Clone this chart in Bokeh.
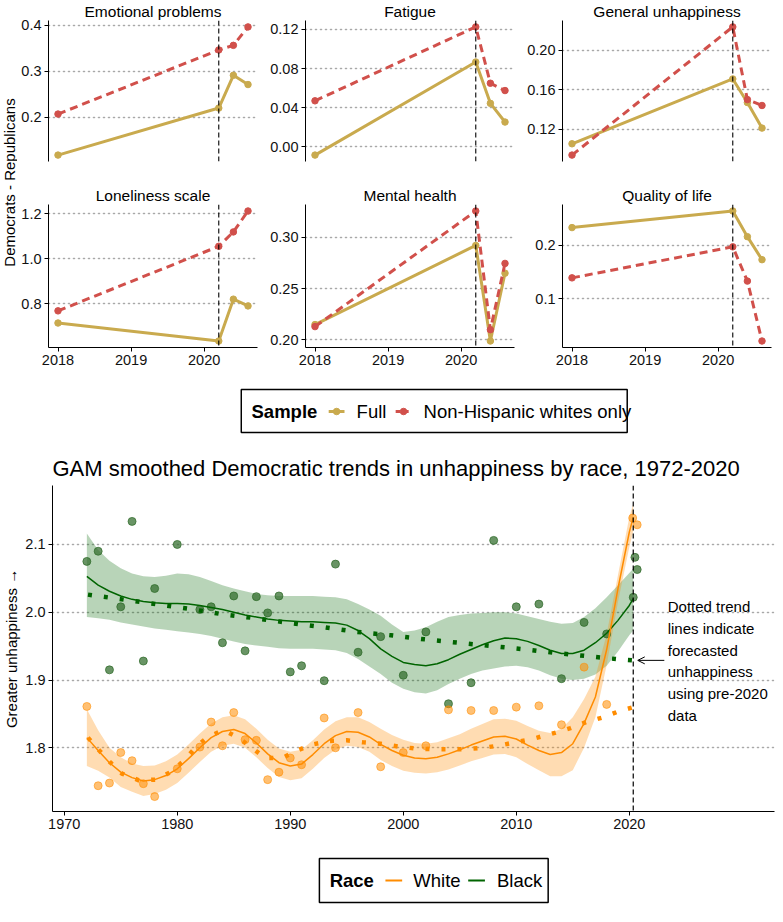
import math
from bokeh.plotting import figure
from bokeh.models import Range1d, FixedTicker, Span, NumeralTickFormatter, Arrow, OpenHead
from bokeh.layouts import column, row
from bokeh.embed import file_html
from bokeh.resources import INLINE
from bokeh.core.properties import value

FONT = "Liberation Sans"
GOLD = "#C9AA4E"
RED = "#D1504B"
ORANGE = "darkorange"
GREEN = "darkgreen"
GRIDC = "#A8A8A8"

# ---------------- small multiples ----------------
survey_x = [2018.0, 2020.2, 2020.4, 2020.6]
covid_x = 2020.2
small_xticks = [2018, 2019, 2020]
sample_title = "Sample"
sample_labels = ["Full", "Non-Hispanic whites only"]
y_title_top = "Democrats - Republicans"

emo_full = [0.118, 0.220, 0.291, 0.271]
emo_nhw = [0.207, 0.346, 0.356, 0.396]
emo_ticks = [0.2, 0.3, 0.4]

fat_full = [-0.0085, 0.0867, 0.0444, 0.0253]
fat_nhw = [0.047, 0.1226, 0.065, 0.0575]
fat_ticks = [0.0, 0.04, 0.08, 0.12]

gen_full = [0.105, 0.171, 0.147, 0.121]
gen_nhw = [0.0935, 0.224, 0.150, 0.144]
gen_ticks = [0.12, 0.16, 0.20]

lone_full = [0.714, 0.634, 0.820, 0.790]
lone_nhw = [0.768, 1.055, 1.119, 1.212]
lone_ticks = [0.8, 1.0, 1.2]

mh_full = [0.215, 0.292, 0.199, 0.265]
mh_nhw = [0.213, 0.3255, 0.210, 0.2745]
mh_ticks = [0.20, 0.25, 0.30]

qol_full = [0.233, 0.264, 0.216, 0.173]
qol_nhw = [0.139, 0.197, 0.133, 0.021]
qol_ticks = [0.1, 0.2]

# ---------------- GAM chart ----------------
big_title = "GAM smoothed Democratic trends in unhappiness by race, 1972-2020"
big_ylabel = "Greater unhappiness \u2192"
big_xticks = [1970, 1980, 1990, 2000, 2010, 2020]
big_yticks = [1.8, 1.9, 2.0, 2.1]
big_vline = 2020.35
race_title = "Race"
race_labels = ["White", "Black"]
note_lines = ["Dotted trend", "lines indicate", "forecasted", "unhappiness",
              "using pre-2020", "data"]

white_obs_x = [1972, 1973, 1974, 1975, 1976, 1977, 1978, 1980, 1982, 1983, 1984,
               1985, 1986, 1987, 1988, 1989, 1990, 1991, 1993, 1994, 1996, 1998,
               2000, 2002, 2004, 2006, 2008, 2010, 2012, 2014, 2016, 2018,
               2020.3, 2020.7]
white_obs = [1.861, 1.744, 1.748, 1.793, 1.781, 1.747, 1.728, 1.769, 1.801, 1.838,
             1.803, 1.852, 1.812, 1.811, 1.753, 1.764, 1.785, 1.775, 1.844, 1.800,
             1.852, 1.772, 1.793, 1.803, 1.856, 1.855, 1.855, 1.860, 1.862, 1.834,
             1.919, 1.864, 2.139, 2.129]

black_obs_x = [1972, 1973, 1974, 1975, 1976, 1977, 1978, 1980, 1982, 1983, 1984,
               1985, 1986, 1987, 1988, 1989, 1990, 1991, 1993, 1994, 1996, 1998,
               2000, 2002, 2004, 2006, 2008, 2010, 2012, 2014, 2016, 2018,
               2020.35, 2020.5, 2020.7]
black_obs = [2.075, 2.090, 1.915, 2.008, 2.134, 1.928, 2.035, 2.100, 2.004, 2.008,
             1.955, 2.024, 1.943, 2.023, 1.999, 2.024, 1.912, 1.921, 1.899, 2.071,
             1.941, 1.964, 1.907, 1.971, 1.865, 1.896, 2.106, 2.008, 2.012, 1.902,
             1.985, 1.968, 2.022, 2.081, 2.063]

fit_x = [1972, 1973, 1974, 1975, 1976, 1977, 1978, 1979, 1980, 1981, 1982, 1983,
         1984, 1985, 1986, 1987, 1988, 1989, 1990, 1991, 1992, 1993, 1994, 1995,
         1996, 1997, 1998, 1999, 2000, 2001, 2002, 2003, 2004, 2005, 2006, 2007,
         2008, 2009, 2010, 2011, 2012, 2013, 2014, 2015, 2016, 2017, 2018, 2019,
         2020, 2020.35]
white_fit = [1.815, 1.796, 1.778, 1.764, 1.756, 1.751, 1.753, 1.759, 1.769, 1.784,
             1.800, 1.815, 1.824, 1.827, 1.821, 1.807, 1.791, 1.778, 1.773, 1.776,
             1.790, 1.806, 1.818, 1.824, 1.823, 1.816, 1.805, 1.796, 1.789, 1.785,
             1.784, 1.786, 1.791, 1.797, 1.804, 1.810, 1.816, 1.817, 1.813, 1.804,
             1.796, 1.790, 1.793, 1.806, 1.836, 1.875, 1.945, 2.035, 2.118, 2.140]
white_hi = [1.857, 1.826, 1.800, 1.786, 1.777, 1.773, 1.774, 1.780, 1.790, 1.805,
            1.821, 1.836, 1.845, 1.848, 1.842, 1.828, 1.812, 1.799, 1.794, 1.797,
            1.811, 1.827, 1.839, 1.845, 1.845, 1.838, 1.828, 1.819, 1.812, 1.807,
            1.806, 1.808, 1.814, 1.820, 1.828, 1.835, 1.842, 1.843, 1.840, 1.832,
            1.825, 1.822, 1.828, 1.845, 1.872, 1.905, 1.968, 2.055, 2.140, 2.160]
white_lo = [1.773, 1.766, 1.756, 1.742, 1.735, 1.729, 1.732, 1.738, 1.748, 1.763,
            1.779, 1.794, 1.803, 1.806, 1.800, 1.786, 1.770, 1.757, 1.752, 1.755,
            1.769, 1.785, 1.797, 1.803, 1.801, 1.794, 1.782, 1.773, 1.766, 1.763,
            1.762, 1.764, 1.768, 1.774, 1.780, 1.785, 1.790, 1.791, 1.786, 1.776,
            1.767, 1.758, 1.758, 1.767, 1.800, 1.845, 1.922, 2.015, 2.096, 2.120]
black_fit = [2.053, 2.040, 2.031, 2.024, 2.019, 2.016, 2.014, 2.013, 2.013, 2.012,
             2.010, 2.007, 2.004, 2.000, 1.996, 1.993, 1.990, 1.988, 1.987, 1.986,
             1.986, 1.985, 1.984, 1.981, 1.973, 1.961, 1.946, 1.935, 1.926, 1.923,
             1.921, 1.924, 1.930, 1.938, 1.945, 1.952, 1.958, 1.962, 1.961, 1.957,
             1.951, 1.944, 1.939, 1.939, 1.944, 1.955, 1.969, 1.988, 2.010, 2.020]
black_hi = [2.116, 2.092, 2.076, 2.065, 2.057, 2.053, 2.052, 2.054, 2.057, 2.056,
            2.052, 2.046, 2.040, 2.035, 2.031, 2.027, 2.025, 2.024, 2.024, 2.024,
            2.024, 2.023, 2.022, 2.019, 2.012, 2.004, 1.995, 1.982, 1.971, 1.973,
            1.978, 1.986, 1.993, 1.996, 1.998, 1.999, 2.000, 2.000, 1.998, 1.994,
            1.990, 1.986, 1.983, 1.984, 1.993, 2.006, 2.022, 2.040, 2.058, 2.064]
black_lo = [1.993, 1.991, 1.989, 1.985, 1.982, 1.979, 1.976, 1.974, 1.972, 1.970,
            1.968, 1.965, 1.961, 1.957, 1.953, 1.951, 1.949, 1.947, 1.946, 1.946,
            1.946, 1.945, 1.944, 1.940, 1.931, 1.920, 1.909, 1.896, 1.887, 1.882,
            1.880, 1.885, 1.894, 1.902, 1.909, 1.914, 1.917, 1.920, 1.921, 1.919,
            1.914, 1.907, 1.902, 1.900, 1.902, 1.908, 1.921, 1.942, 1.966, 1.973]

white_fc_x = [1972.1, 1973.1, 1974.1, 1975.1, 1976.6, 1978.1, 1979.4, 1980.6, 1981.6,
              1982.7, 1984.1, 1985.4, 1986.6, 1987.8, 1989.3, 1990.6, 1992.0, 1993.5,
              1995.0, 1996.5, 1998.0, 1999.5, 2001.0, 2002.4, 2003.9, 2005.5, 2007.0,
              2008.4, 2009.9, 2011.4, 2013.4, 2014.8, 2016.2, 2017.7, 2019.1, 2020.4]
white_fc = [1.815, 1.796, 1.778, 1.762, 1.752, 1.753, 1.764, 1.781, 1.800, 1.816,
            1.826, 1.815, 1.800, 1.785, 1.785, 1.796, 1.805, 1.810, 1.811, 1.808,
            1.806, 1.802, 1.799, 1.798, 1.798, 1.798, 1.800, 1.803, 1.808, 1.813,
            1.822, 1.829, 1.838, 1.845, 1.854, 1.860]
black_fc_x = [1972.1, 1975.1, 1978.1, 1981.1, 1984.0, 1987.0, 1990.0, 1992.9, 1995.9,
              1998.9, 2001.9, 2004.9, 2007.9, 2010.9, 2013.4, 2016.4, 2019.4, 2020.35]
black_fc = [2.026, 2.019, 2.012, 2.005, 1.997, 1.991, 1.984, 1.978, 1.971,
            1.966, 1.960, 1.955, 1.950, 1.945, 1.940, 1.935, 1.930, 1.929]


def style_axes(p):
    p.outline_line_color = None
    p.xgrid.visible = False
    for ax in p.axis:
        ax.axis_line_color = "black"
        ax.axis_line_width = 1
        ax.major_tick_line_color = "black"
        ax.major_tick_out = 4
        ax.major_tick_in = 0
        ax.minor_tick_out = 0
        ax.minor_tick_in = 0
        ax.major_label_text_font = FONT
        ax.major_label_text_font_size = "14.5px"
        ax.major_label_text_color = "#111111"
        ax.major_label_standoff = 3


def style_grid(p, ticks):
    p.ygrid.ticker = FixedTicker(ticks=ticks)
    p.ygrid.grid_line_color = GRIDC
    p.ygrid.grid_line_dash = "1 4"
    p.ygrid.grid_line_width = 1.6
    p.ygrid.grid_line_cap = "round"


def small_panel(title, full, nhw, ticks, fmt, show_x, left, right, top, fh, bottom):
    lo = min(min(full), min(nhw))
    hi = max(max(full), max(nhw))
    pad = (hi - lo) * 0.05
    xpad = (survey_x[-1] - survey_x[0]) * 0.05
    p = figure(frame_width=209, frame_height=fh,
               min_border_left=left, min_border_right=right,
               min_border_top=top, min_border_bottom=bottom,
               x_range=Range1d(survey_x[0] - xpad, survey_x[-1] + xpad),
               y_range=Range1d(lo - pad, hi + pad),
               x_axis_location="below" if show_x else None,
               output_backend="svg", toolbar_location=None, title=title)
    p.title.text_font = FONT
    p.title.text_font_size = "15.5px"
    p.title.text_font_style = "normal"
    p.title.text_color = "black"
    p.title.align = "center"
    p.title.standoff = 1
    style_axes(p)
    p.yaxis.ticker = FixedTicker(ticks=ticks)
    p.yaxis.formatter = NumeralTickFormatter(format=fmt)
    if show_x:
        p.xaxis.ticker = FixedTicker(ticks=small_xticks)
    style_grid(p, ticks)
    p.add_layout(Span(location=covid_x, dimension="height", line_color="black",
                      line_width=1.1, line_dash="5 3"))
    p.line(survey_x, full, line_color=GOLD, line_width=3)
    p.scatter(survey_x, full, size=6.5, color=GOLD)
    p.line(survey_x, nhw, line_color=RED, line_width=3, line_dash="8 5")
    p.scatter(survey_x, nhw, size=6.5, color=RED)
    return p


R1T, R1F, R1B = 18, 141, 23
R2T, R2F, R2B = 18, 143, 34
p1 = small_panel("Emotional problems", emo_full, emo_nhw, emo_ticks, "0.0", False, 31, 4, R1T, R1F, R1B)
p2 = small_panel("Fatigue", fat_full, fat_nhw, fat_ticks, "0.00", False, 44, 4, R1T, R1F, R1B)
p3 = small_panel("General unhappiness", gen_full, gen_nhw, gen_ticks, "0.00", False, 44, 2, R1T, R1F, R1B)
p4 = small_panel("Loneliness scale", lone_full, lone_nhw, lone_ticks, "0.0", True, 31, 4, R2T, R2F, R2B)
p5 = small_panel("Mental health", mh_full, mh_nhw, mh_ticks, "0.00", True, 44, 4, R2T, R2F, R2B)
p6 = small_panel("Quality of life", qol_full, qol_nhw, qol_ticks, "0.0", True, 44, 2, R2T, R2F, R2B)

top_h = R1T + R1F + R1B + R2T + R2F + R2B


def blank(width, height, xr, yr):
    f = figure(width=width, height=height, x_range=Range1d(*xr), y_range=Range1d(*yr),
               min_border=0, output_backend="svg", toolbar_location=None)
    f.axis.visible = False
    f.grid.visible = False
    f.outline_line_color = None
    return f


strip = blank(17, top_h, (0, 17), (0, top_h))
strip.text(x=[0], y=[top_h - 182], text=[y_title_top], angle=math.pi / 2,
           text_align="center", text_baseline="top", text_font=value(FONT),
           text_font_size="15px", text_color="black")

# ---- legend 1 (Sample)
leg1 = blank(771, 68, (0, 771), (0, 68))
leg1.quad(left=[203], right=[618], bottom=[17], top=[60], fill_color=None,
          line_color="black", line_width=1.5)
leg1.text(x=[214], y=[38], text=[sample_title], text_font=value(FONT),
          text_font_size="18.5px", text_font_style="bold", text_baseline="middle")
leg1.line([297, 314], [38, 38], line_color=GOLD, line_width=3)
leg1.scatter([305.5], [38], size=6.5, color=GOLD)
leg1.line([369, 386], [38, 38], line_color=RED, line_width=3, line_dash="5 3")
leg1.scatter([377.5], [38], size=6.5, color=RED)
leg1.text(x=[327, 399], y=[38, 38], text=sample_labels, text_font=value(FONT),
          text_font_size="18.5px", text_baseline="middle")

# ---- GAM chart
big = figure(frame_width=722, frame_height=326, min_border_left=47, min_border_right=2,
             min_border_top=34, min_border_bottom=32,
             x_range=Range1d(1968.96, 2032.85), y_range=Range1d(1.706, 2.187),
             output_backend="svg", toolbar_location=None, title=big_title)
big.title.text_font = FONT
big.title.text_font_size = "22px"
big.title.text_font_style = "normal"
big.title.text_color = "black"
big.title.align = "left"
big.title.standoff = 9
style_axes(big)
big.xaxis.ticker = FixedTicker(ticks=big_xticks)
big.yaxis.ticker = FixedTicker(ticks=big_yticks)
big.yaxis.formatter = NumeralTickFormatter(format="0.0")
big.yaxis.axis_label = big_ylabel
big.yaxis.axis_label_text_font = FONT
big.yaxis.axis_label_text_font_size = "15px"
big.yaxis.axis_label_text_font_style = "normal"
big.yaxis.axis_label_text_color = "black"
big.yaxis.axis_label_standoff = 2
style_grid(big, big_yticks)

big.varea(x=fit_x, y1=black_lo, y2=black_hi, fill_color=GREEN, fill_alpha=0.28)
big.varea(x=fit_x, y1=white_lo, y2=white_hi, fill_color=ORANGE, fill_alpha=0.3)
big.scatter(black_obs_x, black_obs, size=8, color="#2F6B2A", alpha=0.72)
big.scatter(white_obs_x, white_obs, size=8, color=ORANGE, alpha=0.55)
big.line(fit_x, black_fit, line_color=GREEN, line_width=1.5)
big.line(fit_x, white_fit, line_color=ORANGE, line_width=1.5)
big.line(black_fc_x, black_fc, line_color=GREEN, line_width=4.5, line_dash="4 12", line_cap="butt")
big.line(white_fc_x, white_fc, line_color=ORANGE, line_width=4.5, line_dash="4 12", line_cap="butt")
big.add_layout(Span(location=big_vline, dimension="height", line_color="black",
                    line_width=1.2, line_dash="5 3"))
big.add_layout(Arrow(end=OpenHead(size=7, line_color="black", line_width=1),
                     x_start=2023.1, y_start=1.929, x_end=2020.75, y_end=1.929,
                     line_color="black", line_width=1))
note_y = [2.008 - 0.032 * i for i in range(len(note_lines))]
big.text(x=[2023.4] * len(note_lines), y=note_y, text=note_lines, text_font=value(FONT),
         text_font_size="15px", text_baseline="middle", text_align="left", text_color="black")

# ---- legend 2 (Race)
leg2 = blank(771, 67, (0, 771), (0, 67))
leg2.quad(left=[287], right=[533], bottom=[8], top=[52], fill_color=None,
          line_color="black", line_width=1.5)
leg2.text(x=[298], y=[30], text=[race_title], text_font=value(FONT),
          text_font_size="18.5px", text_font_style="bold", text_baseline="middle")
leg2.line([358, 376], [30, 30], line_color=ORANGE, line_width=2)
leg2.line([447, 465], [30, 30], line_color=GREEN, line_width=2)
leg2.text(x=[388, 478], y=[30, 30], text=race_labels, text_font=value(FONT),
          text_font_size="18.5px", text_baseline="middle")

layout = column(row(strip, column(row(p1, p2, p3), row(p4, p5, p6))), leg1, big, leg2)

open("out.html", "w").write(file_html(layout, INLINE))
